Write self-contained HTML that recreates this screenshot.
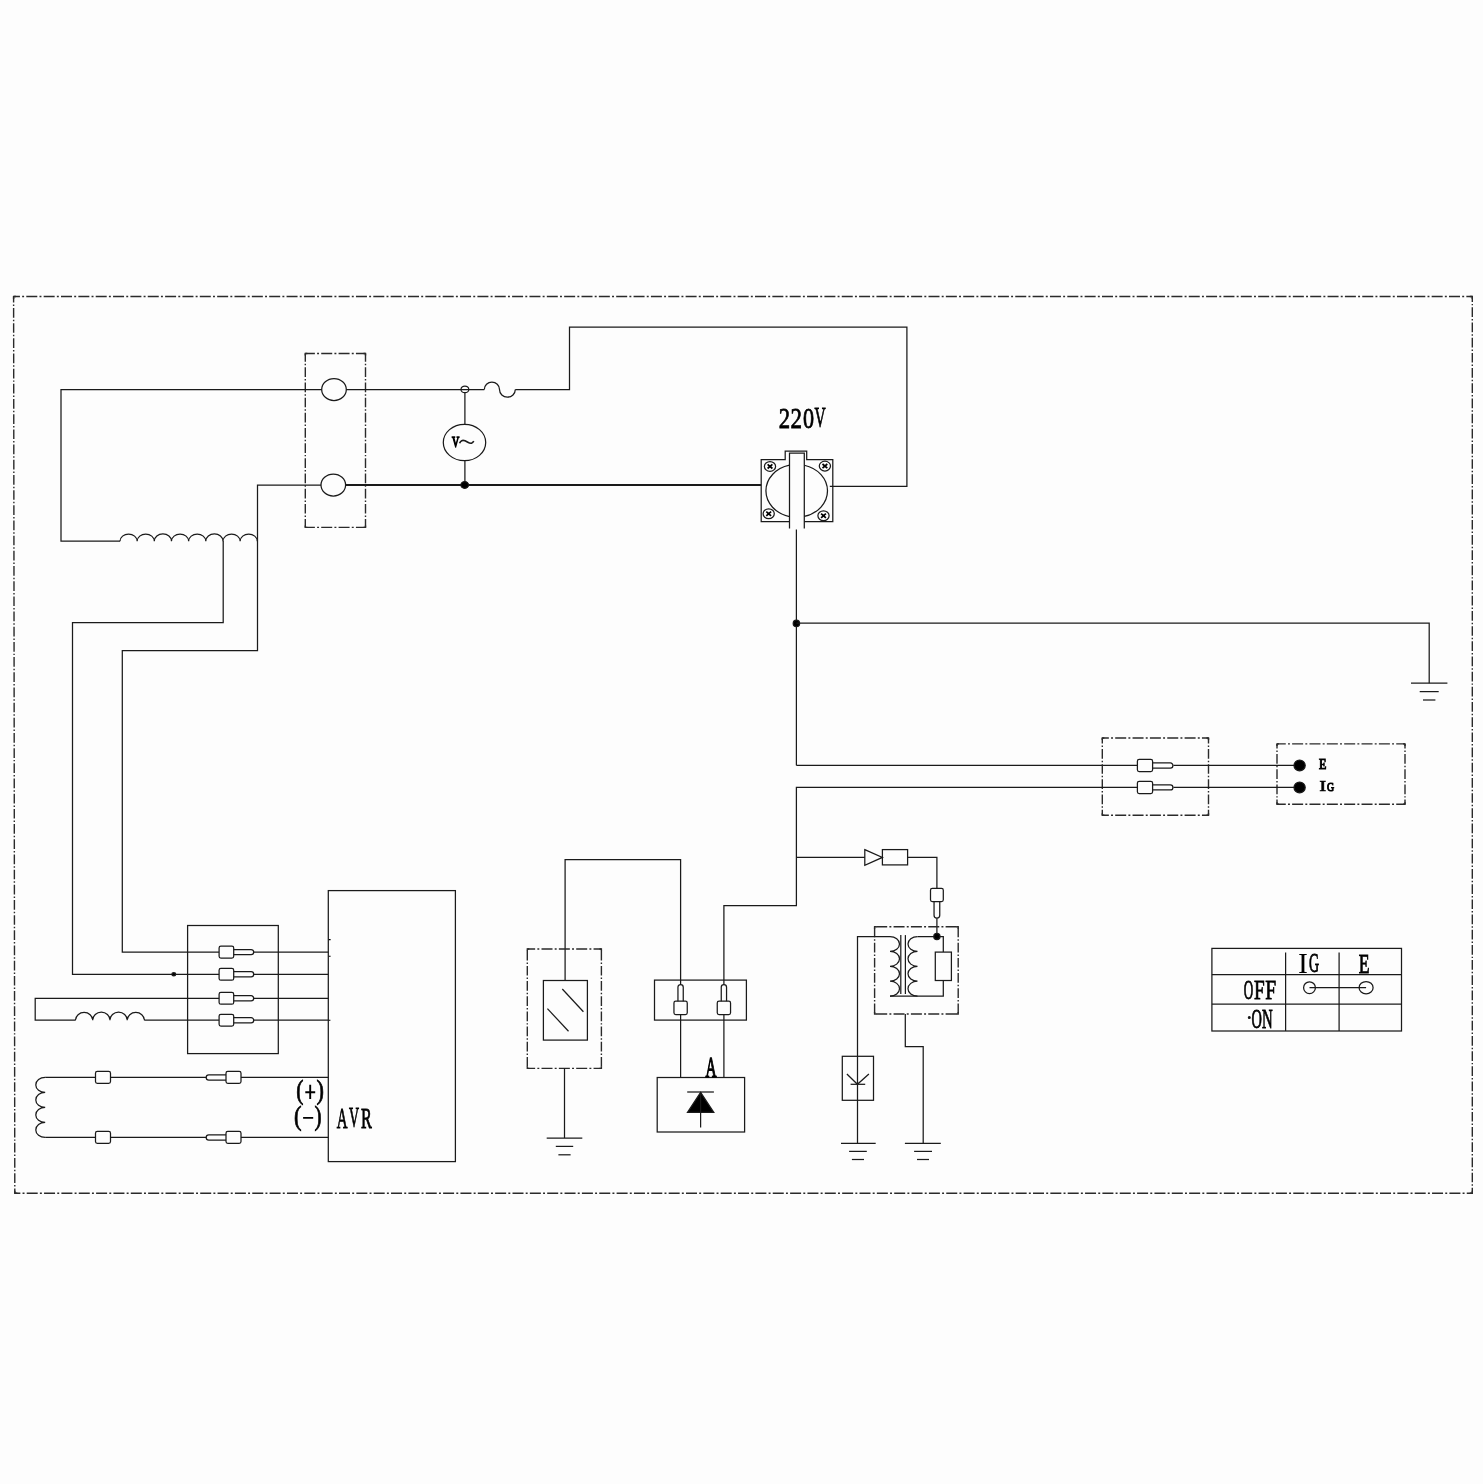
<!DOCTYPE html>
<html><head><meta charset="utf-8"><style>
html,body{margin:0;padding:0;background:#fdfdfd;}
svg{display:block;will-change:transform;}
svg *{fill:none;stroke:#1a1a1a;stroke-width:1.25;}
svg .dd{stroke-width:1.4;stroke:#2a2a2a;}
svg .ddc{stroke-width:1.4;stroke:#2a2a2a;stroke-linejoin:miter;}
svg .f{fill:#000;}
svg .th{stroke-width:1.6;}
svg .scr{stroke-width:1.7;stroke:#000;}
svg .pm{stroke-width:1.9;stroke:#000;}
svg text.tr{font-weight:normal;stroke:#000;stroke-width:0.5;}
svg text{stroke:none;fill:#000;font-family:"Liberation Serif",serif;}
svg text.tb{font-weight:bold;}
svg text.gb{font-weight:normal;stroke:#000;stroke-width:0.7;vector-effect:non-scaling-stroke;}
svg text.gn{font-weight:normal;}
</style></head><body>
<svg width="1483" height="1484" viewBox="0 0 1483 1484">
<line x1="14" y1="296.5" x2="1472.3" y2="296.5" class="dd" style="stroke-dasharray:11.0 2.2 1.95 2.2;stroke-dashoffset:5.05"/>
<line x1="1472.3" y1="296.5" x2="1472.3" y2="1193.2" class="dd" style="stroke-dasharray:9.7 2.0 1.48 2.0;stroke-dashoffset:4.31"/>
<line x1="14.8" y1="1193.2" x2="1472.3" y2="1193.2" class="dd" style="stroke-dasharray:11.0 2.2 1.95 2.2;stroke-dashoffset:5.45"/>
<line x1="13.6" y1="296.5" x2="14.8" y2="1193.2" class="dd" style="stroke-dasharray:9.7 2.0 1.48 2.0;stroke-dashoffset:3.71"/>
<path class="ddc" d="M13.6,299 V296.5 H16 M1469.8,296.5 H1472.3 V299 M1472.3,1190.7 V1193.2 H1469.8 M17.3,1193.2 H14.8 V1190.7"/>
<line x1="305.3" y1="353.5" x2="365.5" y2="353.5" class="dd" style="stroke-dasharray:11.0 2.2 1.95 2.2;stroke-dashoffset:1.425"/>
<line x1="365.5" y1="353.5" x2="365.5" y2="527.4" class="dd" style="stroke-dasharray:9.7 2.0 1.48 2.0;stroke-dashoffset:1.39"/>
<line x1="305.3" y1="527.4" x2="365.5" y2="527.4" class="dd" style="stroke-dasharray:11.0 2.2 1.95 2.2;stroke-dashoffset:1.425"/>
<line x1="305.3" y1="353.5" x2="305.3" y2="527.4" class="dd" style="stroke-dasharray:9.7 2.0 1.48 2.0;stroke-dashoffset:1.39"/>
<path class="ddc" d="M305.3,355.5 V353.5 H307.3 M363.5,353.5 H365.5 V355.5 M365.5,525.4 V527.4 H363.5 M307.3,527.4 H305.3 V525.4"/>
<ellipse cx="334" cy="389.5" rx="12.3" ry="11"/>
<ellipse cx="333.3" cy="485" rx="12.3" ry="11"/>
<polyline points="321.7,389.5 61,389.5 61,541.2 120,541.2"/>
<path d="M120,541.2 A8.58125,7.3 0 0 1 137.16,541.2 A8.58125,7.3 0 0 1 154.32,541.2 A8.58125,7.3 0 0 1 171.49,541.2 A8.58125,7.3 0 0 1 188.65,541.2 A8.58125,7.3 0 0 1 205.81,541.2 A8.58125,7.3 0 0 1 222.98,541.2 A8.58125,7.3 0 0 1 240.14,541.2 A8.58125,7.3 0 0 1 257.3,541.2"/>
<polyline points="321,485 257.5,485 257.5,650.5 122.3,650.5 122.3,952.1 219.1,952.1"/>
<polyline points="223.2,541 223.2,622.6 72.5,622.6 72.5,974.3 219.1,974.3"/>
<polyline points="346.3,389.5 484.3,389.5"/>
<path d="M484.3,389.5 A7.6,7.4 0 0 1 499.5,389.5 A7.6,7.4 0 0 0 515.3,389.5"/>
<polyline points="515.3,389.5 569.5,389.5 569.5,327.2 906.9,327.2 906.9,486.4 829.8,486.4"/>
<line x1="345.6" y1="485" x2="761.2" y2="485" style="stroke-width:1.9"/>
<ellipse cx="464.9" cy="389.4" rx="3.9" ry="3.3"/>
<line x1="464.9" y1="392.7" x2="464.9" y2="424.2"/>
<ellipse cx="464.5" cy="442.5" rx="21.2" ry="18.2"/>
<line x1="464.9" y1="460.7" x2="464.9" y2="485"/>
<ellipse cx="464.7" cy="485" rx="3.8" ry="3.4" class="f"/>
<text transform="matrix(0.05000 0 0 0.07368 452.050 447.129)" font-size="200" class="gb" style="stroke-width:1.2">V</text>
<path d="M459.6,443.2 C460.5,440.6 462.5,439.8 465,440.8 C467.5,441.8 469.5,443.8 471.5,443.2 C472.5,442.9 473.3,442 473.8,441.2" class="th"/>
<text transform="matrix(0.11375 0 0 0.15152 778.676 428.400)" font-size="200" class="gb">2</text>
<text transform="matrix(0.11500 0 0 0.15152 790.565 428.400)" font-size="200" class="gb">2</text>
<text transform="matrix(0.11071 0 0 0.14963 802.914 428.301)" font-size="200" class="gb">0</text>
<text transform="matrix(0.07714 0 0 0.14436 814.446 427.367)" font-size="200" class="gb">V</text>
<path d="M789.5,521.6 H761.2 V459.6 H785.2 V451.2 H806.7 V459.6 H832.8 V521.6 H804.3"/>
<path d="M789.5,528.5 V453.2 H804.3 V528.5"/>
<path d="M789.5,465.17 A30.7,26.4 0 0 0 789.5,516.53"/>
<path d="M804.3,465.25 A30.7,26.4 0 0 1 804.3,516.45"/>
<ellipse cx="770" cy="466.4" rx="5.6" ry="4.9"/>
<path class="scr" d="M767.6,464.29999999999995 L772.4,468.5 M772.4,464.29999999999995 L767.6,468.5"/>
<rect class="f" style="stroke:none" x="768.9" y="465.4" width="2.2" height="2"/>
<ellipse cx="824.9" cy="466.1" rx="5.6" ry="4.9"/>
<path class="scr" d="M822.5,464.0 L827.3,468.20000000000005 M827.3,464.0 L822.5,468.20000000000005"/>
<rect class="f" style="stroke:none" x="823.8" y="465.1" width="2.2" height="2"/>
<ellipse cx="768.7" cy="513.8" rx="5.6" ry="4.9"/>
<path class="scr" d="M766.3000000000001,511.69999999999993 L771.1,515.9 M771.1,511.69999999999993 L766.3000000000001,515.9"/>
<rect class="f" style="stroke:none" x="767.6" y="512.8" width="2.2" height="2"/>
<ellipse cx="823.5" cy="515.7" rx="5.6" ry="4.9"/>
<path class="scr" d="M821.1,513.6 L825.9,517.8000000000001 M825.9,513.6 L821.1,517.8000000000001"/>
<rect class="f" style="stroke:none" x="822.4" y="514.7" width="2.2" height="2"/>
<line x1="796.4" y1="529.5" x2="796.4" y2="765.4"/>
<polyline points="796.4,765.4 1137,765.4"/>
<ellipse cx="796.4" cy="623.4" rx="3.2" ry="3.2" class="f"/>
<polyline points="796.4,623.2 1429.2,623.2 1429.2,683.2"/>
<line x1="1411.0" y1="683.2" x2="1447.4" y2="683.2"/>
<line x1="1419.7" y1="691.6" x2="1438.7" y2="691.6"/>
<line x1="1423.0" y1="700.0" x2="1435.4" y2="700.0"/>
<line x1="1102.3" y1="738" x2="1208.5" y2="738" class="dd" style="stroke-dasharray:11.0 2.2 1.95 2.2;stroke-dashoffset:4.45"/>
<line x1="1208.5" y1="738" x2="1208.5" y2="815.2" class="dd" style="stroke-dasharray:9.7 2.0 1.48 2.0;stroke-dashoffset:4.2"/>
<line x1="1102.3" y1="815.2" x2="1208.5" y2="815.2" class="dd" style="stroke-dasharray:11.0 2.2 1.95 2.2;stroke-dashoffset:4.45"/>
<line x1="1102.3" y1="738" x2="1102.3" y2="815.2" class="dd" style="stroke-dasharray:9.7 2.0 1.48 2.0;stroke-dashoffset:4.2"/>
<path class="ddc" d="M1102.3,740 V738 H1104.3 M1206.5,738 H1208.5 V740 M1208.5,813.2 V815.2 H1206.5 M1104.3,815.2 H1102.3 V813.2"/>
<line x1="1277" y1="743.9" x2="1405" y2="743.9" class="dd" style="stroke-dasharray:11.0 2.2 1.95 2.2;stroke-dashoffset:2.225"/>
<line x1="1405" y1="743.9" x2="1405" y2="804.3" class="dd" style="stroke-dasharray:9.7 2.0 1.48 2.0;stroke-dashoffset:5.01"/>
<line x1="1277" y1="804.3" x2="1405" y2="804.3" class="dd" style="stroke-dasharray:11.0 2.2 1.95 2.2;stroke-dashoffset:2.225"/>
<line x1="1277" y1="743.9" x2="1277" y2="804.3" class="dd" style="stroke-dasharray:9.7 2.0 1.48 2.0;stroke-dashoffset:5.01"/>
<path class="ddc" d="M1277,745.9 V743.9 H1279 M1403,743.9 H1405 V745.9 M1405,802.3 V804.3 H1403 M1279,804.3 H1277 V802.3"/>
<rect x="1137.4" y="759.4" width="15.2" height="12.2" rx="1.8"/>
<path d="M1152.6000000000001,762.95 H1170.3500000000001 A2.55,2.55 0 0 1 1170.3500000000001,768.05 H1152.6000000000001"/>
<rect x="1137.4" y="781.3" width="15.2" height="12.2" rx="1.8"/>
<path d="M1152.6000000000001,784.85 H1170.3500000000001 A2.55,2.55 0 0 1 1170.3500000000001,789.9499999999999 H1152.6000000000001"/>
<line x1="1173.4" y1="765.4" x2="1299.6" y2="765.4"/>
<line x1="1173.4" y1="787.4" x2="1299.6" y2="787.4"/>
<ellipse cx="1299.6" cy="765.4" rx="5.6" ry="5.4" class="f"/>
<ellipse cx="1299.6" cy="787.4" rx="5.6" ry="5.4" class="f"/>
<text transform="matrix(0.06038 0 0 0.06870 1318.888 769.350)" font-size="200" class="gb" style="stroke-width:1.0">E</text>
<text transform="matrix(0.09811 0 0 0.06769 1319.563 790.750)" font-size="200" class="gb" style="stroke-width:0.8">I</text>
<text transform="matrix(0.04923 0 0 0.06642 1326.956 790.517)" font-size="200" class="gb" style="stroke-width:1.0">G</text>
<polyline points="1137,787.4 796.4,787.4 796.4,905.6 723.9,905.6 723.9,984.5"/>
<line x1="796.4" y1="857.4" x2="864.8" y2="857.4"/>
<path d="M864.8,849.6 L882.4,857.4 L864.8,865.2 Z"/>
<rect x="882.4" y="849.6" width="25.2" height="15.3"/>
<polyline points="907.6,857.4 936.9,857.4 936.9,888.4"/>
<rect x="930.5" y="888.4" width="12.8" height="13.1" rx="1.8"/>
<path d="M934.05,901.5 V915.35 A2.85,2.85 0 0 0 939.75,915.35 V901.5"/>
<line x1="936.9" y1="918.2" x2="936.9" y2="936.5"/>
<line x1="874.6" y1="926.7" x2="958.2" y2="926.7" class="dd" style="stroke-dasharray:11.0 2.2 1.95 2.2;stroke-dashoffset:-1.6"/>
<line x1="958.2" y1="926.7" x2="958.2" y2="1014" class="dd" style="stroke-dasharray:9.7 2.0 1.48 2.0;stroke-dashoffset:-0.85"/>
<line x1="874.6" y1="1014" x2="958.2" y2="1014" class="dd" style="stroke-dasharray:11.0 2.2 1.95 2.2;stroke-dashoffset:-1.6"/>
<line x1="874.6" y1="926.7" x2="874.6" y2="1014" class="dd" style="stroke-dasharray:9.7 2.0 1.48 2.0;stroke-dashoffset:-0.85"/>
<path class="ddc" d="M874.6,928.7 V926.7 H876.6 M956.2,926.7 H958.2 V928.7 M958.2,1012 V1014 H956.2 M876.6,1014 H874.6 V1012"/>
<polyline points="890,936.5 857.5,936.5 857.5,1143.3"/>
<path d="M890,936.5 A9.5,7.450000000000003 0 0 1 890,951.4 A9.5,7.450000000000003 0 0 1 890,966.3 A9.5,7.450000000000003 0 0 1 890,981.2 A9.5,7.450000000000003 0 0 1 890,996.1"/>
<line x1="900.8" y1="935.1" x2="900.8" y2="994"/>
<line x1="905.4" y1="935.1" x2="905.4" y2="994"/>
<path d="M917.5,936.5 A9.5,7.450000000000003 0 0 0 917.5,951.4 A9.5,7.450000000000003 0 0 0 917.5,966.3 A9.5,7.450000000000003 0 0 0 917.5,981.2 A9.5,7.450000000000003 0 0 0 917.5,996.1"/>
<polyline points="917.5,936.5 943.3,936.5 943.3,952.1"/>
<ellipse cx="936.9" cy="936.5" rx="3.1" ry="3.1" class="f"/>
<rect x="935.3" y="952.1" width="16.1" height="28.4"/>
<polyline points="943.3,980.5 943.3,996.1 890,996.1"/>
<polyline points="905.3,1014 905.3,1046.5 923.2,1046.5 923.2,1143.3"/>
<line x1="841" y1="1143.3" x2="875.7" y2="1143.3"/>
<line x1="849.1" y1="1151.4" x2="866.8" y2="1151.4"/>
<line x1="851.9" y1="1159.5" x2="864" y2="1159.5"/>
<line x1="904.9" y1="1143.3" x2="940.8" y2="1143.3"/>
<line x1="914.1" y1="1151.4" x2="932" y2="1151.4"/>
<line x1="917" y1="1159.5" x2="929" y2="1159.5"/>
<rect x="842.3" y="1056.3" width="31.2" height="44.0"/>
<line x1="850.6" y1="1084.3" x2="865.2" y2="1084.3"/>
<path d="M846.9,1074 L857.4,1084.3 L868.9,1074"/>
<polyline points="680.6,984.5 680.6,859.6 565.1,859.6 565.1,980.5"/>
<line x1="527.3" y1="949" x2="601.4" y2="949" class="dd" style="stroke-dasharray:11.0 2.2 1.95 2.2;stroke-dashoffset:3.15"/>
<line x1="601.4" y1="949" x2="601.4" y2="1068.4" class="dd" style="stroke-dasharray:9.7 2.0 1.48 2.0;stroke-dashoffset:-1.72"/>
<line x1="527.3" y1="1068.4" x2="601.4" y2="1068.4" class="dd" style="stroke-dasharray:11.0 2.2 1.95 2.2;stroke-dashoffset:3.15"/>
<line x1="527.3" y1="949" x2="527.3" y2="1068.4" class="dd" style="stroke-dasharray:9.7 2.0 1.48 2.0;stroke-dashoffset:-1.72"/>
<path class="ddc" d="M527.3,951 V949 H529.3 M599.4,949 H601.4 V951 M601.4,1066.4 V1068.4 H599.4 M529.3,1068.4 H527.3 V1066.4"/>
<rect x="543.4" y="980.5" width="44.0" height="59.6"/>
<line x1="562.3" y1="989" x2="583.4" y2="1011.7"/>
<line x1="547.4" y1="1008.6" x2="568.5" y2="1031.2"/>
<line x1="564.5" y1="1068.4" x2="564.5" y2="1138"/>
<line x1="546.7" y1="1138" x2="582.3" y2="1138"/>
<line x1="555.8" y1="1146.4" x2="573.2" y2="1146.4"/>
<line x1="558.4" y1="1154.8" x2="570.6" y2="1154.8"/>
<rect x="654.5" y="980.1" width="91.9" height="40.0"/>
<rect x="673.95" y="1001.2" width="13.3" height="13.4" rx="1.8"/>
<path d="M677.95,1001.2 V987.15 A2.65,2.65 0 0 1 683.25,987.15 V1001.2"/>
<rect x="717.25" y="1001.2" width="13.3" height="13.4" rx="1.8"/>
<path d="M721.25,1001.2 V987.15 A2.65,2.65 0 0 1 726.55,987.15 V1001.2"/>
<line x1="680.6" y1="1014.6" x2="680.6" y2="1077.5"/>
<line x1="723.9" y1="1014.6" x2="723.9" y2="1077.5"/>
<rect x="657.2" y="1077.5" width="87.4" height="54.5"/>
<text transform="matrix(0.07660 0 0 0.14809 705.447 1077.000)" font-size="200" class="gb" style="stroke-width:1.1">A</text>
<line x1="687.2" y1="1092" x2="713.9" y2="1092"/>
<path d="M700.6,1092.4 L713.8,1112.4 L687.5,1112.4 Z" class="f"/>
<line x1="700.6" y1="1092" x2="700.6" y2="1127.5"/>
<rect x="187.6" y="925.5" width="90.7" height="128.1"/>
<rect x="328.3" y="890.6" width="127.1" height="271.0"/>
<rect x="219.1" y="946.2" width="14.6" height="11.8" rx="1.8"/>
<path d="M233.7,949.5 H251.1 A2.6,2.6 0 0 1 251.1,954.7 H233.7"/>
<line x1="253.7" y1="952.1" x2="328.3" y2="952.1"/>
<rect x="219.1" y="968.4" width="14.6" height="11.8" rx="1.8"/>
<path d="M233.7,971.6999999999999 H251.1 A2.6,2.6 0 0 1 251.1,976.9 H233.7"/>
<line x1="253.7" y1="974.3" x2="328.3" y2="974.3"/>
<rect x="219.1" y="992.4" width="14.6" height="11.8" rx="1.8"/>
<path d="M233.7,995.6999999999999 H251.1 A2.6,2.6 0 0 1 251.1,1000.9 H233.7"/>
<line x1="253.7" y1="998.3" x2="328.3" y2="998.3"/>
<rect x="219.1" y="1014.3000000000001" width="14.6" height="11.8" rx="1.8"/>
<path d="M233.7,1017.6 H251.1 A2.6,2.6 0 0 1 251.1,1022.8000000000001 H233.7"/>
<line x1="253.7" y1="1020.2" x2="328.3" y2="1020.2"/>
<ellipse cx="173.8" cy="974.3" rx="1.9" ry="1.6" class="f"/>
<path style="stroke-width:1.1;stroke:#000" d="M328.8,939.6 H330.6 M328.8,956.3 H330.6 M328.8,1020.2 H330.4"/>
<polyline points="219.1,998.3 35.2,998.3 35.2,1020.2 75.5,1020.2"/>
<path d="M75.5,1020.2 A8.6125,8 0 0 1 92.72,1020.2 A8.6125,8 0 0 1 109.95,1020.2 A8.6125,8 0 0 1 127.18,1020.2 A8.6125,8 0 0 1 144.4,1020.2"/>
<line x1="144.4" y1="1020.2" x2="219.1" y2="1020.2"/>
<path d="M45.2,1077.4 A9.4,7.5 0 0 0 45.2,1092.4 A9.4,7.5 0 0 0 45.2,1107.4 A9.4,7.5 0 0 0 45.2,1122.4 A9.4,7.5 0 0 0 45.2,1137.4"/>
<line x1="45.2" y1="1077.4" x2="95.5" y2="1077.4"/>
<rect x="95.5" y="1071.4" width="15.0" height="12.0" rx="1.8"/>
<line x1="110.5" y1="1077.4" x2="206.2" y2="1077.4"/>
<rect x="226" y="1071.4" width="15" height="12.0" rx="1.8"/>
<path d="M226,1074.8000000000002 H208.79999999999998 A2.6,2.6 0 0 0 208.79999999999998,1080.0 H226"/>
<line x1="241" y1="1077.4" x2="328.3" y2="1077.4"/>
<line x1="45.2" y1="1137.4" x2="95.5" y2="1137.4"/>
<rect x="95.5" y="1131.4" width="15.0" height="12.0" rx="1.8"/>
<line x1="110.5" y1="1137.4" x2="206.2" y2="1137.4"/>
<rect x="226" y="1131.4" width="15" height="12.0" rx="1.8"/>
<path d="M226,1134.8000000000002 H208.79999999999998 A2.6,2.6 0 0 0 208.79999999999998,1140.0 H226"/>
<line x1="241" y1="1137.4" x2="328.3" y2="1137.4"/>
<text transform="matrix(0.10784 0 0 0.13444 296.329 1098.553)" font-size="200" class="gb">(</text>
<text transform="matrix(0.11154 0 0 0.13444 316.531 1098.553)" font-size="200" class="gb">)</text>
<text transform="matrix(0.11373 0 0 0.13722 293.976 1124.737)" font-size="200" class="gb">(</text>
<text transform="matrix(0.10577 0 0 0.13722 314.565 1124.737)" font-size="200" class="gb">)</text>
<path class="pm" d="M305.3,1092.2 H315.2 M310.2,1084.8 V1098.9 M303.1,1117.9 H313.2"/>
<text transform="matrix(0.07447 0 0 0.15038 336.851 1127.600)" font-size="200" class="gb">A</text>
<text transform="matrix(0.06929 0 0 0.14286 348.961 1127.171)" font-size="200" class="gb">V</text>
<text transform="matrix(0.08110 0 0 0.14615 361.013 1127.600)" font-size="200" class="gb">R</text>
<rect x="1211.9" y="948.4" width="189.6" height="82.6"/>
<line x1="1211.9" y1="974.6" x2="1401.5" y2="974.6"/>
<line x1="1211.9" y1="1004" x2="1401.5" y2="1004"/>
<line x1="1285.6" y1="952.5" x2="1285.6" y2="1031"/>
<line x1="1339.1" y1="952.5" x2="1339.1" y2="1031"/>
<text transform="matrix(0.14906 0 0 0.14462 1297.957 972.900)" font-size="200" class="gn">I</text>
<text transform="matrix(0.07000 0 0 0.13582 1309.040 972.328)" font-size="200" class="gb">G</text>
<text transform="matrix(0.08868 0 0 0.13206 1358.668 972.600)" font-size="200" class="gb">E</text>
<text transform="matrix(0.06563 0 0 0.13657 1243.675 999.227)" font-size="200" class="gb">O</text>
<text transform="matrix(0.09592 0 0 0.13664 1254.124 999.300)" font-size="200" class="gb">F</text>
<text transform="matrix(0.09796 0 0 0.13664 1265.312 999.300)" font-size="200" class="gb">F</text>
<text transform="matrix(0.07188 0 0 0.13657 1251.525 1027.527)" font-size="200" class="gb">O</text>
<text transform="matrix(0.07388 0 0 0.13923 1262.057 1027.600)" font-size="200" class="gb">N</text>
<ellipse cx="1249.3" cy="1017.5" rx="0.9" ry="0.9" class="f"/>
<ellipse cx="1309.5" cy="987.7" rx="5.9" ry="5.9"/>
<ellipse cx="1366.1" cy="987.7" rx="7" ry="6.2"/>
<line x1="1309.5" y1="987.7" x2="1366.1" y2="987.7"/>
</svg>
</body></html>
